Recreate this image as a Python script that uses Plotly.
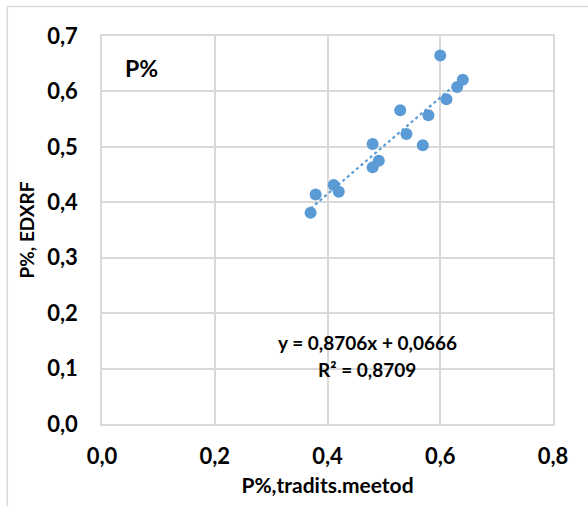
import plotly.graph_objects as go

# Data
x_trad = [0.370, 0.379, 0.411, 0.420, 0.480, 0.480, 0.491, 0.529, 0.540, 0.569, 0.579, 0.600, 0.611, 0.630, 0.640]
y_edxrf = [0.381, 0.414, 0.431, 0.419, 0.505, 0.463, 0.475, 0.566, 0.523, 0.503, 0.557, 0.665, 0.586, 0.608, 0.621]

# Linear trendline as shown on the chart
slope = 0.8706
intercept = 0.0666
r2 = 0.8709

x_ticks = [0.0, 0.2, 0.4, 0.6, 0.8]
y_ticks = [0.0, 0.1, 0.2, 0.3, 0.4, 0.5, 0.6, 0.7]

BLUE = "#5b9bd5"
GRID = "#d9d9d9"
FONT = "Lato"

x_line = [min(x_trad), max(x_trad)]
y_line = [slope * v + intercept for v in x_line]

fig = go.Figure()
fig.add_trace(go.Scatter(x=x_line, y=y_line, mode="lines",
                         line=dict(color=BLUE, width=2.2, dash="dot"),
                         hoverinfo="skip", showlegend=False))
fig.add_trace(go.Scatter(x=x_trad, y=y_edxrf, mode="markers",
                         marker=dict(color=BLUE, size=12),
                         showlegend=False))

def fmt(v, n=4):
    return f"{v:.{n}f}".replace(".", ",")

fig.add_annotation(x=0.4706, y=0.1467, xref="x", yref="y", showarrow=False,
                   text=f"y = {fmt(slope)}x + {fmt(intercept)}",
                   font=dict(family=FONT, size=19, color="#000000", weight="bold"))
fig.add_annotation(x=0.4706, y=0.0985, xref="x", yref="y", showarrow=False,
                   text=f"R² = {fmt(r2)}",
                   font=dict(family=FONT, size=19, color="#000000", weight="bold"))
fig.add_annotation(x=0.047, y=0.917, xref="paper", yref="paper", showarrow=False,
                   xanchor="left", yanchor="middle", text="P%",
                   font=dict(family=FONT, size=23, color="#000000", weight="bold"))

# Outer chart border (left and top, as in the cropped reference)
fig.add_shape(type="line", xref="paper", yref="paper", x0=-0.21, x1=-0.21, y0=1.076, y1=-0.3,
              line=dict(color=GRID, width=1.5), layer="above")
fig.add_shape(type="line", xref="paper", yref="paper", x0=-0.21, x1=1.2, y0=1.076, y1=1.076,
              line=dict(color=GRID, width=1.5), layer="above")

fig.update_layout(
    width=588, height=506,
    margin=dict(l=102, r=35, t=36, b=79),
    paper_bgcolor="white", plot_bgcolor="white",
    separators=", ",
    font=dict(family=FONT, color="#000000"),
)
fig.update_xaxes(range=[0, 0.8], tickvals=x_ticks, tickformat=".1f",
                 showgrid=True, gridcolor=GRID, gridwidth=1.5,
                 showline=True, linecolor=GRID, linewidth=1.5, mirror=True,
                 zeroline=False, ticks="", ticklabelstandoff=12,
                 tickfont=dict(family=FONT, size=22, color="#000000", weight="bold"),
                 title=dict(text="P%,tradits.meetod", standoff=10,
                            font=dict(family=FONT, size=21, color="#000000", weight="bold")))
fig.update_yaxes(range=[0, 0.7], tickvals=y_ticks, tickformat=".1f",
                 showgrid=True, gridcolor=GRID, gridwidth=1.5,
                 showline=True, linecolor=GRID, linewidth=1.5, mirror=True,
                 zeroline=False, ticks="", ticklabelstandoff=18,
                 tickfont=dict(family=FONT, size=22, color="#000000", weight="bold"),
                 title=dict(text="P%, EDXRF", standoff=8,
                            font=dict(family=FONT, size=19, color="#000000", weight="bold")))

fig.write_html("out.html")
